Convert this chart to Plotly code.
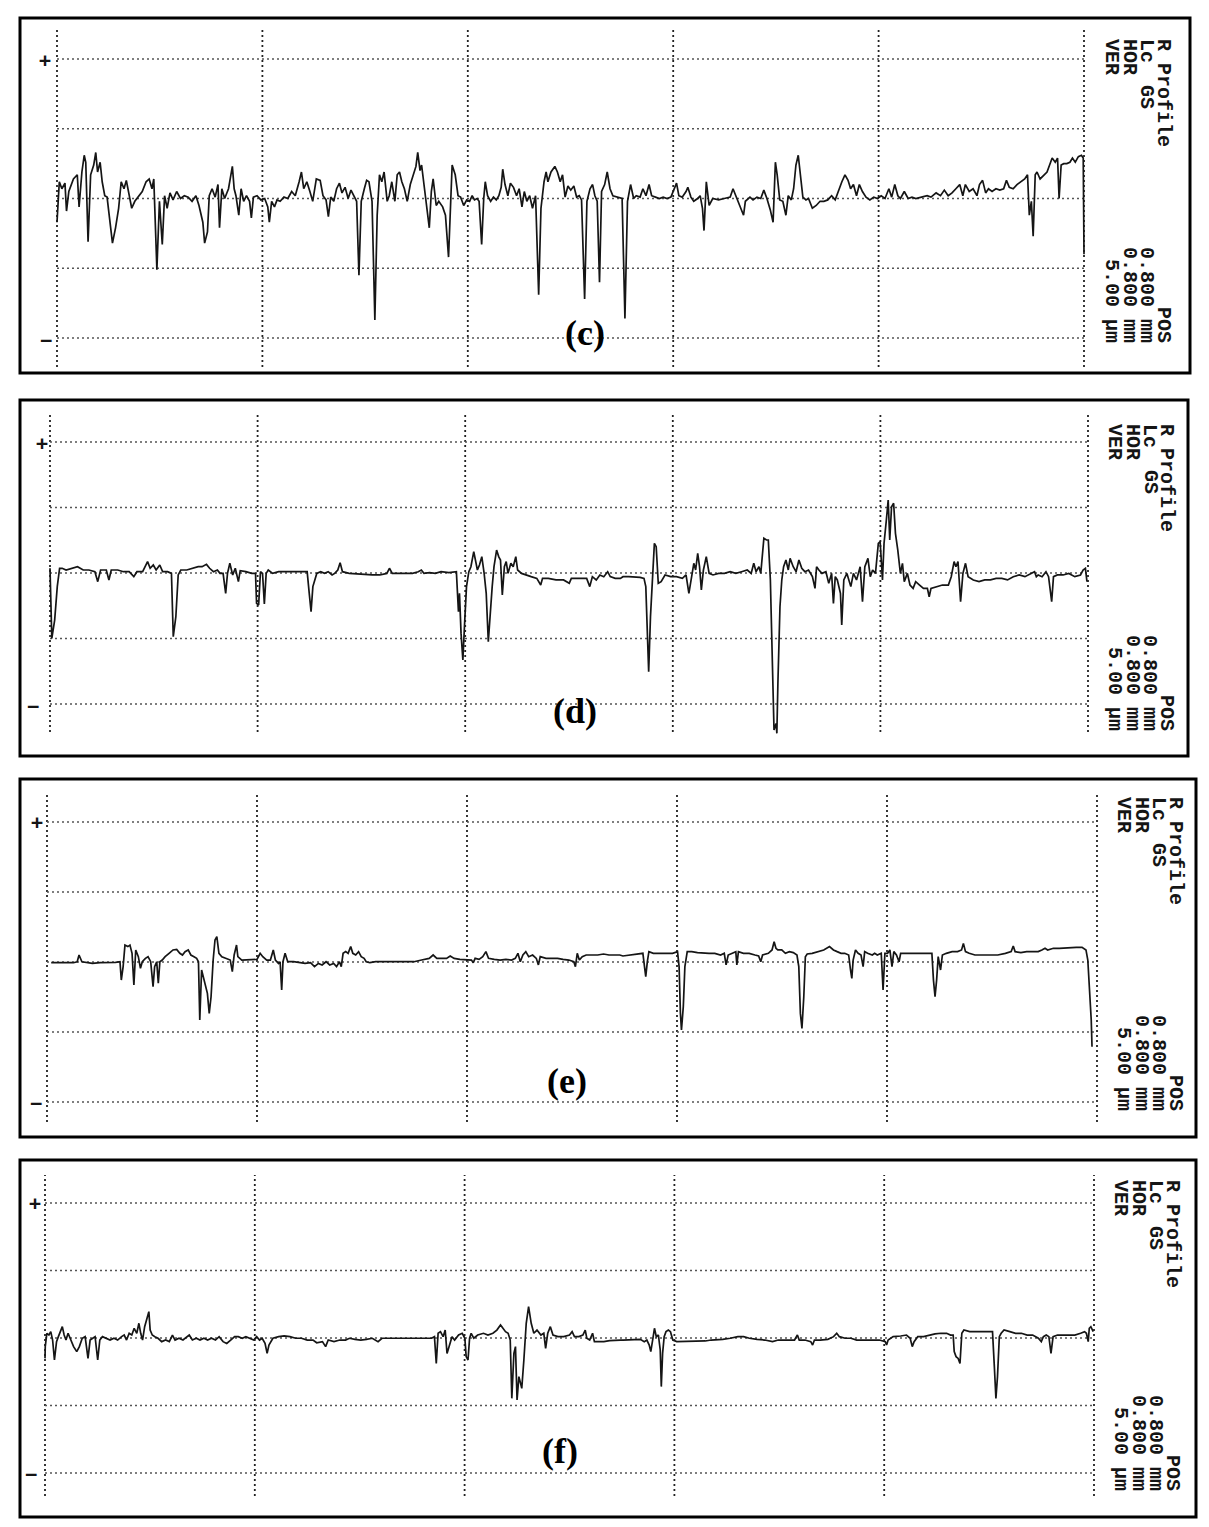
import plotly.graph_objects as go

# page is 1209x1527; the browser puts an 8px body margin round the plot div
PAGE_PAD = 8
W, H = 1209 - 2 * PAGE_PAD, 1527 - 2 * PAGE_PAD

# Profiles: (position along trace in mm, height in µm)
profile_c = [
    (0.000, -1.7), (0.009, 1.2), (0.019, 0.7), (0.031, 1.1), (0.037, -0.9), (0.046, 0.5), (0.064, 1.4),
    (0.079, 1.7), (0.086, -0.6), (0.097, 1.9), (0.106, 3.1), (0.112, 2.6), (0.121, -3.1), (0.131, 1.7),
    (0.143, 2.4), (0.151, 3.3), (0.158, 1.9), (0.168, 2.6), (0.176, 1.2), (0.186, 0.2), (0.195, 0.1),
    (0.206, -1.7), (0.216, -3.2), (0.228, -2.1), (0.240, -0.7), (0.250, 1.2), (0.261, 0.7), (0.270, 1.3),
    (0.280, 0.2), (0.291, -0.7), (0.303, -0.2), (0.317, 0.1), (0.332, 0.5), (0.347, 1.2), (0.359, 1.4),
    (0.370, 0.7), (0.377, 1.4), (0.389, -5.1), (0.399, -0.2), (0.410, -3.3), (0.419, 0.2), (0.429, -0.7),
    (0.440, 0.4), (0.452, -0.1), (0.466, 0.5), (0.481, 0.0), (0.496, 0.2), (0.511, 0.1), (0.526, -0.2),
    (0.541, 0.2), (0.553, -0.5), (0.568, -1.7), (0.575, -3.2), (0.586, -2.4), (0.593, 0.2), (0.604, 0.7),
    (0.616, 0.1), (0.627, 1.0), (0.633, -2.1), (0.642, 0.7), (0.653, 0.0), (0.668, 0.7), (0.683, 2.3),
    (0.690, 0.7), (0.697, 0.2), (0.708, -1.2), (0.717, 0.7), (0.727, -0.2), (0.738, 0.2), (0.750, -0.2),
    (0.757, -1.4), (0.765, 0.1), (0.779, 0.2), (0.794, -0.1), (0.809, 0.0), (0.821, -0.6), (0.827, -1.7),
    (0.836, -0.2), (0.847, -0.6), (0.857, -0.1), (0.869, -0.2), (0.884, 0.1), (0.899, 0.0), (0.914, 0.5),
    (0.928, 0.2), (0.943, 1.2), (0.952, 1.9), (0.961, 0.7), (0.973, 1.2), (0.985, 0.5), (0.996, -0.2),
    (1.010, 1.4), (1.025, 1.3), (1.036, 0.2), (1.048, -0.1), (1.057, -1.3), (1.066, 0.1), (1.078, -0.2),
    (1.089, 0.7), (1.100, 1.1), (1.110, 0.4), (1.122, 0.8), (1.134, 0.0), (1.145, 0.6), (1.155, 0.2),
    (1.167, -0.2), (1.176, -5.5), (1.185, -0.2), (1.197, 0.7), (1.206, 1.3), (1.215, 1.2), (1.227, -0.2),
    (1.238, -8.7), (1.247, -1.2), (1.256, 1.7), (1.265, 1.2), (1.274, 1.9), (1.286, -0.2), (1.294, 0.2),
    (1.304, 1.2), (1.316, -0.2), (1.325, 1.7), (1.334, 1.9), (1.343, 1.2), (1.353, 0.7), (1.364, -0.2),
    (1.376, 1.0), (1.388, 1.7), (1.398, 2.3), (1.405, 3.3), (1.414, 2.0), (1.420, 2.4), (1.428, 1.2),
    (1.435, -0.2), (1.443, -1.0), (1.450, -2.1), (1.458, 0.5), (1.465, 1.4), (1.477, -0.5), (1.487, -0.2),
    (1.502, -0.6), (1.513, -1.2), (1.525, -4.2), (1.534, 0.7), (1.539, 2.4), (1.551, 1.7), (1.562, 0.2),
    (1.572, 0.1), (1.584, -0.5), (1.596, -0.1), (1.607, -0.2), (1.617, 0.2), (1.626, -0.1), (1.636, 0.0),
    (1.644, -0.2), (1.654, -3.3), (1.662, 0.0), (1.668, 1.2), (1.677, 0.2), (1.689, -0.2), (1.700, 0.1),
    (1.711, -0.1), (1.721, 0.2), (1.730, 0.8), (1.736, 2.1), (1.745, 1.0), (1.756, 0.2), (1.766, 1.1),
    (1.778, 0.8), (1.790, 0.2), (1.800, 0.7), (1.811, -0.6), (1.820, 0.5), (1.830, -0.2), (1.841, 0.2),
    (1.852, -0.7), (1.864, 0.2), (1.876, -6.9), (1.885, -0.7), (1.897, 1.2), (1.905, 1.9), (1.912, 1.2),
    (1.924, 1.9), (1.939, 2.3), (1.949, 1.9), (1.960, 1.2), (1.969, 1.7), (1.979, 0.1), (1.990, 0.9),
    (2.001, 0.6), (2.013, 0.9), (2.024, 0.1), (2.034, 0.2), (2.043, -0.1), (2.055, -7.2), (2.064, -0.2),
    (2.076, 0.7), (2.086, 1.0), (2.095, 0.2), (2.104, -0.2), (2.113, -6.0), (2.121, 0.5), (2.133, 1.0),
    (2.143, 1.9), (2.154, 0.7), (2.165, 0.2), (2.180, 0.1), (2.201, 0.0), (2.212, -8.6), (2.222, -0.2),
    (2.234, 1.0), (2.246, 0.0), (2.256, 0.2), (2.271, 0.1), (2.282, 0.7), (2.294, 0.2), (2.306, 1.0),
    (2.316, 0.2), (2.331, 0.1), (2.346, 0.0), (2.361, 0.1), (2.376, 0.0), (2.391, 0.1), (2.405, 0.7),
    (2.413, 1.1), (2.422, 0.2), (2.435, 0.1), (2.450, 0.5), (2.457, 0.8), (2.469, 0.1), (2.480, -0.2),
    (2.495, 0.0), (2.505, 0.2), (2.514, -0.7), (2.520, -2.3), (2.529, 1.2), (2.540, -0.5), (2.554, 0.0),
    (2.577, -0.1), (2.599, 0.0), (2.622, 0.1), (2.633, 0.7), (2.644, 0.2), (2.659, -0.5), (2.674, -1.2),
    (2.681, -0.2), (2.699, 0.1), (2.711, -0.1), (2.726, 0.1), (2.741, 0.0), (2.753, 0.6), (2.765, 0.0),
    (2.778, -0.8), (2.789, -1.7), (2.798, 2.6), (2.805, 1.7), (2.815, -0.1), (2.827, -0.2), (2.839, -1.2),
    (2.848, 0.2), (2.860, -0.1), (2.869, 0.7), (2.878, 2.4), (2.887, 3.1), (2.894, 1.9), (2.905, 0.1),
    (2.917, -0.1), (2.927, 0.0), (2.942, -0.7), (2.957, -0.5), (2.972, -0.2), (2.987, -0.2), (3.002, -0.1),
    (3.017, 0.2), (3.031, -0.1), (3.046, 0.7), (3.057, 1.2), (3.069, 1.7), (3.081, 1.3), (3.091, 0.7),
    (3.102, 1.0), (3.114, 0.2), (3.125, 1.0), (3.137, 0.5), (3.151, 0.1), (3.166, -0.1), (3.181, 0.1),
    (3.196, 0.0), (3.210, 0.2), (3.225, 0.0), (3.240, 0.7), (3.251, 0.1), (3.263, 1.0), (3.275, 0.2),
    (3.285, 0.0), (3.300, 0.5), (3.315, 0.0), (3.330, 0.1), (3.345, 0.0), (3.367, 0.1), (3.389, 0.2),
    (3.404, 0.1), (3.424, 0.4), (3.441, 0.2), (3.456, 0.6), (3.471, 0.2), (3.486, 0.4), (3.501, 0.7),
    (3.516, 1.0), (3.528, 0.2), (3.538, 1.0), (3.553, 0.5), (3.568, 0.7), (3.583, 0.2), (3.593, 1.0),
    (3.605, 1.3), (3.617, 0.4), (3.628, 0.7), (3.642, 0.5), (3.657, 0.7), (3.672, 0.6), (3.687, 0.7),
    (3.698, 1.3), (3.709, 0.8), (3.724, 0.7), (3.739, 1.0), (3.754, 1.2), (3.769, 1.4), (3.780, 1.7),
    (3.787, -1.2), (3.795, -0.2), (3.802, -2.7), (3.810, 1.7), (3.817, 1.9), (3.829, 1.4), (3.844, 1.7),
    (3.856, 1.9), (3.866, 2.4), (3.876, 2.9), (3.888, 2.6), (3.897, 2.9), (3.903, 0.0), (3.911, 2.4),
    (3.921, 2.5), (3.933, 2.5), (3.945, 2.6), (3.955, 2.9), (3.966, 2.6), (3.978, 3.0), (3.990, 3.1),
    (3.997, 2.9), (4.000, -4.0),
]

profile_d = [
    (0.000, 0.36), (0.007, -4.99), (0.018, -3.59), (0.028, -1.04), (0.037, 0.36), (0.047, 0.36),
    (0.062, 0.23), (0.084, 0.36), (0.106, 0.48), (0.128, 0.23), (0.150, 0.23), (0.173, 0.10),
    (0.184, -0.66), (0.195, 0.23), (0.217, 0.23), (0.227, -0.53), (0.236, 0.23), (0.261, 0.23),
    (0.283, 0.10), (0.305, 0.10), (0.323, -0.28), (0.335, 0.10), (0.357, 0.10), (0.376, 0.87),
    (0.386, 0.36), (0.398, 0.61), (0.409, 0.23), (0.423, 0.61), (0.434, 0.10), (0.453, 0.10),
    (0.468, -0.03), (0.475, -4.86), (0.485, -3.33), (0.494, -0.15), (0.504, 0.23), (0.527, 0.23),
    (0.549, 0.36), (0.571, 0.48), (0.586, 0.48), (0.603, 0.66), (0.615, 0.36), (0.630, 0.10),
    (0.645, 0.23), (0.655, -0.03), (0.667, -0.03), (0.677, -1.55), (0.684, -0.03), (0.693, 0.74),
    (0.704, -0.15), (0.714, 0.36), (0.726, -0.66), (0.733, 0.18), (0.755, 0.10), (0.777, -0.03),
    (0.792, -0.03), (0.796, -2.32), (0.804, -2.44), (0.811, 0.10), (0.819, -0.03), (0.826, -2.37),
    (0.833, -0.03), (0.841, 0.23), (0.858, -0.03), (0.881, 0.10), (0.903, 0.10), (0.925, 0.10),
    (0.947, 0.10), (0.969, 0.10), (0.991, 0.10), (0.999, -1.55), (1.006, -2.95), (1.013, -1.04),
    (1.021, -0.53), (1.028, -0.03), (1.043, 0.10), (1.058, -0.03), (1.072, 0.10), (1.087, -0.15),
    (1.097, -0.03), (1.109, 0.23), (1.118, 0.79), (1.127, 0.10), (1.153, -0.03), (1.183, -0.08),
    (1.212, -0.15), (1.242, -0.15), (1.271, -0.15), (1.298, -0.03), (1.308, 0.36), (1.319, -0.03),
    (1.345, -0.03), (1.375, -0.03), (1.397, -0.03), (1.419, 0.10), (1.431, 0.23), (1.441, -0.03),
    (1.463, 0.03), (1.485, -0.03), (1.507, 0.10), (1.537, 0.03), (1.566, 0.10), (1.574, -2.95),
    (1.578, -1.55), (1.584, -4.61), (1.591, -6.64), (1.599, -3.33), (1.605, -1.04), (1.614, 0.10),
    (1.622, 0.48), (1.633, 1.63), (1.640, 0.99), (1.647, 0.23), (1.655, 0.61), (1.664, 1.25),
    (1.673, -0.03), (1.681, -1.55), (1.689, -5.24), (1.696, -2.82), (1.704, -1.04), (1.711, 0.48),
    (1.721, 1.75), (1.729, 1.25), (1.736, 0.99), (1.743, -1.68), (1.751, 0.48), (1.758, 0.87),
    (1.765, -0.03), (1.776, 0.74), (1.785, 0.48), (1.795, 1.25), (1.802, 0.23), (1.817, -0.03),
    (1.832, -0.15), (1.854, -0.28), (1.876, -0.41), (1.891, -0.92), (1.898, -0.41), (1.920, -0.41),
    (1.950, -0.53), (1.979, -0.53), (2.001, -0.79), (2.009, -0.41), (2.038, -0.41), (2.068, -0.41),
    (2.080, -1.04), (2.090, -0.28), (2.105, -0.53), (2.119, -0.15), (2.134, -0.28), (2.149, 0.10),
    (2.159, -0.28), (2.178, -0.41), (2.198, -0.41), (2.208, -0.28), (2.230, -0.28), (2.252, -0.28),
    (2.274, -0.33), (2.289, -0.41), (2.296, -1.04), (2.302, -4.61), (2.307, -7.53), (2.314, -3.33),
    (2.321, -0.53), (2.329, 2.26), (2.336, 2.01), (2.344, -0.79), (2.355, -0.66), (2.370, -0.15),
    (2.392, -0.28), (2.414, -0.28), (2.437, -0.41), (2.451, -0.15), (2.462, -1.55), (2.470, -0.66),
    (2.481, 0.74), (2.488, 0.23), (2.496, 1.50), (2.503, 0.48), (2.510, -1.30), (2.518, 0.23),
    (2.529, 1.25), (2.540, -0.03), (2.555, -0.15), (2.577, -0.03), (2.599, -0.03), (2.621, 0.10),
    (2.643, -0.03), (2.665, 0.10), (2.687, 0.23), (2.702, -0.03), (2.712, 0.74), (2.721, 0.10),
    (2.732, 0.48), (2.739, -0.03), (2.751, 2.65), (2.761, 2.52), (2.768, 2.52), (2.776, -0.53),
    (2.783, -7.15), (2.790, -11.98), (2.798, -11.48), (2.801, -12.24), (2.805, -8.42), (2.813, -2.57),
    (2.820, -0.53), (2.827, 0.48), (2.836, 0.99), (2.845, 0.23), (2.852, 1.12), (2.864, 0.48),
    (2.875, 0.10), (2.886, 0.99), (2.897, 0.36), (2.909, 0.10), (2.923, 0.23), (2.938, -0.28),
    (2.948, -1.17), (2.954, 0.48), (2.963, 0.23), (2.975, -0.03), (2.990, 0.10), (3.001, -0.79),
    (3.012, -0.03), (3.019, -2.32), (3.026, -0.28), (3.034, -0.53), (3.046, -1.55), (3.051, -3.97),
    (3.059, -0.53), (3.071, -0.03), (3.086, -1.04), (3.096, -0.03), (3.108, -0.53), (3.122, 0.48),
    (3.131, -2.19), (3.140, 0.48), (3.152, 1.12), (3.161, -0.28), (3.170, 0.23), (3.181, -0.03),
    (3.192, 2.26), (3.199, 2.39), (3.208, -0.53), (3.214, 2.26), (3.223, 4.05), (3.230, 5.57),
    (3.236, 2.52), (3.243, 5.06), (3.251, 5.32), (3.258, 3.03), (3.267, 1.75), (3.277, -0.03),
    (3.285, 0.74), (3.292, -0.66), (3.304, -0.03), (3.314, -0.92), (3.326, -1.17), (3.336, -0.66),
    (3.351, -0.92), (3.366, -1.17), (3.381, -1.17), (3.388, -1.81), (3.395, -1.17), (3.417, -1.04),
    (3.439, -0.92), (3.462, -0.92), (3.473, -0.28), (3.484, 0.87), (3.491, 0.48), (3.499, 0.87),
    (3.509, -2.19), (3.518, -0.03), (3.528, 0.74), (3.538, -0.28), (3.558, -0.53), (3.580, -0.66),
    (3.602, -0.53), (3.624, -0.53), (3.646, -0.41), (3.668, -0.41), (3.690, -0.53), (3.712, -0.28),
    (3.735, -0.15), (3.757, -0.28), (3.779, -0.03), (3.794, 0.10), (3.801, -0.28), (3.808, -0.15),
    (3.823, -0.28), (3.838, 0.10), (3.848, -0.28), (3.860, -2.19), (3.867, -0.28), (3.882, -0.15),
    (3.904, -0.15), (3.926, -0.03), (3.949, -0.28), (3.971, -0.15), (3.981, 0.23), (3.990, 0.36),
    (3.996, -0.66),
]

profile_e = [
    (0.016, -0.05), (0.042, -0.05), (0.071, -0.10), (0.101, -0.05), (0.115, 0.02), (0.122, 0.50),
    (0.133, 0.02), (0.152, -0.05), (0.173, -0.10), (0.203, -0.05), (0.232, -0.05), (0.261, -0.02),
    (0.278, 0.02), (0.283, -1.29), (0.290, -0.33), (0.297, 1.21), (0.308, 1.10), (0.316, 1.21),
    (0.324, 0.62), (0.331, -1.64), (0.338, 0.86), (0.348, 0.38), (0.356, -0.45), (0.363, 0.02),
    (0.375, 0.26), (0.385, 0.38), (0.395, 0.02), (0.404, -1.76), (0.410, -0.33), (0.418, 0.02),
    (0.424, -1.52), (0.430, 0.02), (0.439, 0.14), (0.450, 0.38), (0.465, 0.62), (0.480, 0.86),
    (0.494, 0.90), (0.506, 0.62), (0.516, 0.50), (0.526, 0.74), (0.538, 0.86), (0.548, 0.50),
    (0.560, 0.38), (0.570, 0.26), (0.577, 0.02), (0.582, -4.14), (0.589, -0.57), (0.599, -1.29),
    (0.611, -2.24), (0.618, -3.67), (0.625, -2.48), (0.633, 0.14), (0.640, 1.57), (0.647, 1.81),
    (0.655, 0.62), (0.666, 0.38), (0.684, 0.26), (0.698, 0.14), (0.706, -0.69), (0.713, 0.50),
    (0.722, 1.21), (0.727, 0.38), (0.742, 0.14), (0.764, 0.14), (0.786, 0.14), (0.800, 0.19),
    (0.812, 0.62), (0.822, 0.38), (0.837, 0.14), (0.851, 0.14), (0.862, 0.86), (0.870, 0.14),
    (0.882, -0.10), (0.888, 0.02), (0.894, -2.00), (0.899, 0.02), (0.907, 0.62), (0.917, 0.02),
    (0.939, 0.02), (0.961, -0.05), (0.983, -0.10), (1.004, -0.05), (1.019, -0.33), (1.034, -0.10),
    (1.048, -0.21), (1.063, 0.02), (1.077, -0.21), (1.092, -0.10), (1.103, -0.33), (1.114, 0.02),
    (1.121, -0.33), (1.128, 0.62), (1.138, 0.74), (1.147, 0.62), (1.157, 1.10), (1.165, 0.62),
    (1.176, 0.50), (1.187, 0.74), (1.197, 0.38), (1.208, 0.26), (1.216, 0.02), (1.230, -0.05),
    (1.252, 0.02), (1.281, 0.02), (1.310, 0.02), (1.340, 0.02), (1.369, 0.02), (1.398, 0.02),
    (1.427, 0.14), (1.456, 0.26), (1.471, 0.50), (1.485, 0.26), (1.500, 0.26), (1.522, 0.26),
    (1.536, 0.43), (1.551, 0.26), (1.573, 0.19), (1.595, 0.14), (1.617, 0.14), (1.624, -0.05),
    (1.631, 0.26), (1.646, 0.19), (1.660, 0.38), (1.672, 0.74), (1.682, 0.26), (1.704, 0.19),
    (1.726, 0.14), (1.748, 0.19), (1.770, 0.14), (1.784, 0.26), (1.794, 0.62), (1.803, 0.02),
    (1.813, 0.50), (1.824, 0.74), (1.835, 0.38), (1.850, 0.50), (1.864, 0.26), (1.872, -0.21),
    (1.879, 0.38), (1.901, 0.26), (1.923, 0.26), (1.945, 0.26), (1.966, 0.19), (1.988, 0.14),
    (2.007, 0.02), (2.013, -0.33), (2.020, 0.62), (2.028, 0.14), (2.039, 0.38), (2.054, 0.50),
    (2.076, 0.50), (2.098, 0.50), (2.120, 0.57), (2.141, 0.50), (2.163, 0.50), (2.182, 0.50),
    (2.194, 0.43), (2.223, 0.50), (2.252, 0.57), (2.270, 0.62), (2.277, -0.45), (2.281, -1.05),
    (2.287, 0.02), (2.293, 0.74), (2.310, 0.62), (2.332, 0.62), (2.354, 0.62), (2.383, 0.62),
    (2.402, 0.74), (2.408, -0.33), (2.413, -3.67), (2.417, -4.86), (2.424, -3.19), (2.430, -0.33),
    (2.439, 0.74), (2.456, 0.74), (2.478, 0.67), (2.500, 0.62), (2.522, 0.62), (2.544, 0.62),
    (2.566, 0.50), (2.580, 0.62), (2.587, -0.21), (2.595, 0.50), (2.609, 0.62), (2.624, 0.74),
    (2.628, -0.21), (2.634, 0.74), (2.653, 0.62), (2.675, 0.62), (2.697, 0.50), (2.711, 0.43),
    (2.719, 0.02), (2.726, 0.50), (2.748, 0.62), (2.762, 0.86), (2.770, 1.45), (2.777, 0.98),
    (2.784, 0.86), (2.799, 0.86), (2.813, 0.62), (2.828, 0.74), (2.843, 0.67), (2.857, 0.50),
    (2.864, -0.33), (2.870, -3.67), (2.876, -4.74), (2.883, -2.48), (2.889, 0.38), (2.896, 0.57),
    (2.915, 0.62), (2.937, 0.74), (2.959, 0.86), (2.981, 1.10), (2.996, 0.86), (3.010, 0.74),
    (3.025, 0.62), (3.039, 0.62), (3.054, 0.50), (3.061, -0.57), (3.066, -1.17), (3.071, 0.14),
    (3.080, 0.86), (3.090, 0.62), (3.101, 0.50), (3.109, -0.33), (3.115, 0.74), (3.126, 0.62),
    (3.144, 0.50), (3.153, 0.62), (3.163, 0.50), (3.178, 0.62), (3.185, -2.00), (3.192, 0.62),
    (3.202, 0.62), (3.211, 0.86), (3.219, -0.33), (3.226, 0.74), (3.236, 0.50), (3.246, 0.02),
    (3.252, 0.62), (3.265, 0.62), (3.287, 0.62), (3.309, 0.62), (3.331, 0.62), (3.353, 0.62),
    (3.371, 0.62), (3.377, -1.29), (3.383, -2.48), (3.389, -1.29), (3.395, 0.38), (3.404, -0.57),
    (3.411, 0.50), (3.426, 0.62), (3.448, 0.74), (3.469, 0.74), (3.484, 0.86), (3.491, 1.33),
    (3.499, 0.74), (3.513, 0.62), (3.535, 0.50), (3.564, 0.50), (3.593, 0.50), (3.622, 0.50),
    (3.651, 0.62), (3.673, 0.74), (3.681, 1.14), (3.688, 0.74), (3.710, 0.67), (3.732, 0.74),
    (3.754, 0.74), (3.776, 0.74), (3.790, 0.86), (3.802, 0.98), (3.812, 0.86), (3.834, 0.98),
    (3.856, 0.98), (3.878, 1.02), (3.899, 1.02), (3.921, 1.05), (3.943, 1.05), (3.958, 0.86),
    (3.965, 0.14), (3.972, -1.76), (3.978, -4.14), (3.981, -6.05),
]

profile_f = [
    (0.000, -1.51), (0.001, -0.64), (0.007, 0.35), (0.015, 0.22), (0.022, 0.47), (0.029, -0.15),
    (0.036, -1.63), (0.044, -0.27), (0.051, 0.10), (0.058, 0.47), (0.066, 0.84), (0.073, 0.22),
    (0.080, -0.15), (0.088, 0.35), (0.095, -0.02), (0.109, -0.64), (0.121, -1.01), (0.131, -0.64),
    (0.142, -0.02), (0.153, 0.10), (0.164, -1.51), (0.172, -0.15), (0.182, -0.02), (0.191, 0.10),
    (0.201, -1.63), (0.209, -0.15), (0.219, 0.10), (0.234, -0.02), (0.248, -0.15), (0.263, -0.02),
    (0.277, -0.15), (0.292, 0.10), (0.302, 0.22), (0.311, -0.15), (0.321, 0.35), (0.331, 0.22),
    (0.340, 0.72), (0.350, 0.35), (0.358, 1.09), (0.365, 0.35), (0.372, -0.15), (0.380, 0.84),
    (0.387, 1.33), (0.396, 1.95), (0.401, 0.59), (0.409, 0.22), (0.419, 0.10), (0.431, -0.02),
    (0.445, -0.27), (0.460, -0.15), (0.474, -0.27), (0.486, 0.22), (0.496, -0.15), (0.511, -0.02),
    (0.526, -0.15), (0.540, 0.10), (0.550, 0.22), (0.562, -0.15), (0.577, -0.02), (0.591, -0.15),
    (0.606, -0.02), (0.620, -0.15), (0.635, -0.02), (0.650, -0.15), (0.664, 0.10), (0.679, -0.27),
    (0.693, -0.40), (0.708, -0.15), (0.723, 0.10), (0.737, 0.10), (0.752, -0.02), (0.766, 0.10),
    (0.781, -0.02), (0.796, -0.15), (0.807, 0.10), (0.818, -0.15), (0.828, -0.02), (0.839, -0.40),
    (0.847, -1.14), (0.854, -0.52), (0.869, -0.02), (0.891, 0.10), (0.912, 0.15), (0.934, 0.10),
    (0.956, -0.02), (0.978, -0.02), (1.000, -0.15), (1.022, -0.15), (1.036, -0.35), (1.058, -0.27),
    (1.070, -0.64), (1.080, -0.15), (1.102, -0.27), (1.124, -0.15), (1.146, -0.15), (1.161, -0.02),
    (1.182, -0.10), (1.204, -0.15), (1.226, -0.10), (1.248, -0.02), (1.270, -0.27), (1.285, -0.02),
    (1.307, -0.02), (1.336, -0.02), (1.365, -0.02), (1.394, -0.02), (1.423, -0.02), (1.453, -0.02),
    (1.474, -0.02), (1.485, 0.10), (1.492, -1.88), (1.499, 0.35), (1.508, 0.47), (1.518, 0.10),
    (1.526, 0.59), (1.533, -1.14), (1.540, -0.64), (1.552, 0.10), (1.562, -0.15), (1.577, 0.22),
    (1.591, 0.35), (1.601, -0.02), (1.606, -1.38), (1.613, -1.63), (1.619, -0.02), (1.625, 0.35),
    (1.635, -0.02), (1.650, 0.22), (1.672, 0.35), (1.689, 0.22), (1.708, 0.35), (1.723, 0.59),
    (1.737, 0.96), (1.747, 0.72), (1.756, 0.47), (1.766, 0.35), (1.774, -0.15), (1.780, -4.47),
    (1.788, -1.14), (1.794, -0.64), (1.800, -4.59), (1.807, -2.86), (1.818, -3.73), (1.826, -1.63),
    (1.835, 1.09), (1.844, 2.32), (1.854, 1.09), (1.864, 0.35), (1.876, 0.59), (1.891, 0.22),
    (1.902, 0.35), (1.909, -0.77), (1.917, 0.35), (1.927, 0.84), (1.937, 0.22), (1.956, 0.10),
    (1.978, 0.10), (2.000, 0.22), (2.010, 0.47), (2.019, 0.10), (2.036, 0.10), (2.051, 0.22),
    (2.060, 0.59), (2.066, -0.02), (2.077, -0.15), (2.088, 0.35), (2.095, -0.27), (2.109, -0.27),
    (2.131, -0.27), (2.153, -0.20), (2.175, -0.15), (2.194, -0.15), (2.204, -0.15), (2.226, -0.15),
    (2.248, -0.15), (2.270, -0.10), (2.285, -0.27), (2.295, -0.15), (2.304, -0.52), (2.310, -1.01),
    (2.317, -0.15), (2.324, 0.72), (2.331, 0.10), (2.339, 0.22), (2.346, -0.89), (2.350, -3.60),
    (2.355, -1.14), (2.361, 0.10), (2.368, 0.47), (2.377, 0.59), (2.385, 0.47), (2.394, -0.15),
    (2.409, -0.27), (2.431, -0.27), (2.453, -0.27), (2.474, -0.27), (2.496, -0.27), (2.518, -0.22),
    (2.540, -0.15), (2.562, -0.15), (2.584, -0.10), (2.613, -0.02), (2.642, 0.10), (2.664, 0.10),
    (2.686, -0.02), (2.715, -0.10), (2.745, -0.15), (2.774, -0.27), (2.796, -0.15), (2.818, -0.15),
    (2.839, -0.15), (2.858, -0.15), (2.869, 0.22), (2.876, -0.15), (2.898, -0.15), (2.920, -0.27),
    (2.927, -0.52), (2.934, -0.15), (2.956, -0.15), (2.985, -0.10), (3.007, 0.10), (3.019, 0.35),
    (3.029, 0.10), (3.051, -0.02), (3.073, -0.02), (3.095, -0.15), (3.124, -0.15), (3.153, -0.15),
    (3.182, -0.15), (3.204, -0.27), (3.209, -0.52), (3.215, -0.15), (3.234, 0.10), (3.263, 0.15),
    (3.285, 0.22), (3.299, -0.02), (3.307, -0.64), (3.314, -0.27), (3.328, 0.10), (3.350, 0.10),
    (3.372, 0.22), (3.394, 0.30), (3.416, 0.35), (3.438, 0.35), (3.453, 0.22), (3.463, 0.22),
    (3.467, -1.01), (3.474, -1.38), (3.482, -1.51), (3.489, -1.88), (3.496, 0.35), (3.504, 0.59),
    (3.526, 0.47), (3.547, 0.47), (3.577, 0.47), (3.599, 0.47), (3.613, 0.47), (3.620, -2.12),
    (3.626, -4.47), (3.632, -2.86), (3.639, 0.10), (3.646, 0.35), (3.657, 0.59), (3.679, 0.47),
    (3.701, 0.35), (3.723, 0.35), (3.745, 0.22), (3.766, 0.22), (3.788, -0.02), (3.799, -0.27),
    (3.807, 0.10), (3.818, 0.22), (3.828, 0.10), (3.836, -1.14), (3.844, 0.10), (3.861, 0.22),
    (3.883, 0.22), (3.905, 0.22), (3.927, 0.22), (3.949, 0.35), (3.964, 0.47), (3.971, 0.35),
    (3.978, -0.27), (3.982, 0.72), (3.988, 0.84), (3.997, 0.47),
]

# chart grid: HOR 0.800 mm per column, VER 5.00 µm per row
x_grid = [0.0, 0.8, 1.6, 2.4, 3.2, 4.0]
y_grid = [-10, -5, 0, 5, 10]

panel_tags = ["(c)", "(d)", "(e)", "(f)"]
head_lines = ["R Profile", "Lc", "HOR", "VER"]
tail_lines = ["POS", "0.800 mm", "0.800 mm", "5.00 µm"]

# where each printout sits on the page (page pixels)
PANELS = [
    dict(box=(20, 18, 1190, 373), gx=(57, 1084), gy=(59, 338), vline=(28, 367),
         label=(585, 333), plus=(45, 60), minus=(46, 340), ttop=37, tbot=345),
    dict(box=(20, 400, 1188, 756), gx=(50, 1088), gy=(442, 704), vline=(415, 732),
         label=(575, 711), plus=(42, 443), minus=(33, 706), ttop=422, tbot=733),
    dict(box=(20, 779, 1196, 1137), gx=(47, 1097), gy=(822, 1102), vline=(792, 1122),
         label=(567, 1081), plus=(37, 822), minus=(36, 1103), ttop=795, tbot=1113),
    dict(box=(20, 1160, 1196, 1517), gx=(45, 1094), gy=(1203, 1473), vline=(1175, 1496),
         label=(560, 1451), plus=(35, 1203), minus=(31, 1474), ttop=1178, tbot=1493),
]
TEXT_COLS = [79, 62, 45, 27]   # printed text lines, right of the last grid line
GS_DROP = 46

INK = "#151515"
PRINT_FONT = dict(family="Liberation Mono", size=20, color=INK, weight="bold")


def px(x):
    return (x - PAGE_PAD) / W


def py(y):
    return 1 - (y - PAGE_PAD) / H


fig = go.Figure()
shapes, annos = [], []

for i, (tag, prof, g) in enumerate(zip(panel_tags, [profile_c, profile_d, profile_e, profile_f], PANELS), start=1):
    s = "" if i == 1 else str(i)
    l, t, r, b = g["box"]
    gx0, gx1 = g["gx"]
    gyp, gym = g["gy"]
    ppmm = (gx1 - gx0) / (x_grid[-1] - x_grid[0])
    ppum = (gym - gyp) / (y_grid[-1] - y_grid[0])
    yc = (gyp + gym) / 2

    xs, ys = zip(*prof)
    fig.add_trace(go.Scatter(
        x=list(xs), y=list(ys), mode="lines",
        line=dict(color=INK, width=1.7),
        xaxis="x" + s, yaxis="y" + s, hoverinfo="skip", showlegend=False,
    ))
    fig.update_layout(**{
        f"xaxis{s}": dict(domain=[px(l), px(r)], range=[(l - gx0) / ppmm, (r - gx0) / ppmm],
                          visible=False, anchor="y" + s),
        f"yaxis{s}": dict(domain=[py(b), py(t)], range=[(yc - b) / ppum, (yc - t) / ppum],
                          visible=False, anchor="x" + s),
    })

    vt, vb = g["vline"]
    for xv in x_grid:
        shapes.append(dict(type="line", xref="x" + s, yref="y" + s, x0=xv, x1=xv,
                           y0=(yc - vb) / ppum, y1=(yc - vt) / ppum, layer="below",
                           line=dict(color="#222222", width=1.8, dash="2px,3px")))
    for yv in y_grid:
        shapes.append(dict(type="line", xref="x" + s, yref="y" + s, x0=x_grid[0], x1=x_grid[-1],
                           y0=yv, y1=yv, layer="below",
                           line=dict(color="#555555", width=1.3, dash="2px,3px")))
    shapes.append(dict(type="rect", xref="paper", yref="paper", x0=px(l), x1=px(r),
                       y0=py(b), y1=py(t), line=dict(color="black", width=3)))

    for sym, (sx, sy) in (("+", g["plus"]), ("−", g["minus"])):
        annos.append(dict(text=sym, x=px(sx), y=py(sy), xref="paper", yref="paper",
                          showarrow=False, xanchor="center", yanchor="middle",
                          font=dict(family="DejaVu Sans Mono", size=20, color=INK, weight="bold")))

    for k, (head, tail) in enumerate(zip(head_lines, tail_lines)):
        xcol = px(gx1 + TEXT_COLS[k])
        annos.append(dict(text=head, x=xcol, y=py(g["ttop"]), xref="paper", yref="paper",
                          textangle=90, showarrow=False, xanchor="center", yanchor="top",
                          font=PRINT_FONT))
        annos.append(dict(text=tail, x=xcol, y=py(g["tbot"]), xref="paper", yref="paper",
                          textangle=90, showarrow=False, xanchor="center", yanchor="bottom",
                          font=PRINT_FONT))
    annos.append(dict(text="GS", x=px(gx1 + TEXT_COLS[1]), y=py(g["ttop"] + GS_DROP),
                      xref="paper", yref="paper", textangle=90, showarrow=False,
                      xanchor="center", yanchor="top", font=PRINT_FONT))

    lx, ly = g["label"]
    annos.append(dict(text=tag, x=px(lx), y=py(ly), xref="paper", yref="paper",
                      showarrow=False, xanchor="center", yanchor="middle",
                      font=dict(family="Liberation Serif", size=36, color="black", weight="bold")))

fig.update_layout(
    width=W, height=H,
    margin=dict(l=0, r=0, t=0, b=0),
    paper_bgcolor="white", plot_bgcolor="white",
    shapes=shapes, annotations=annos,
    showlegend=False,
)

fig.write_html("out.html")
